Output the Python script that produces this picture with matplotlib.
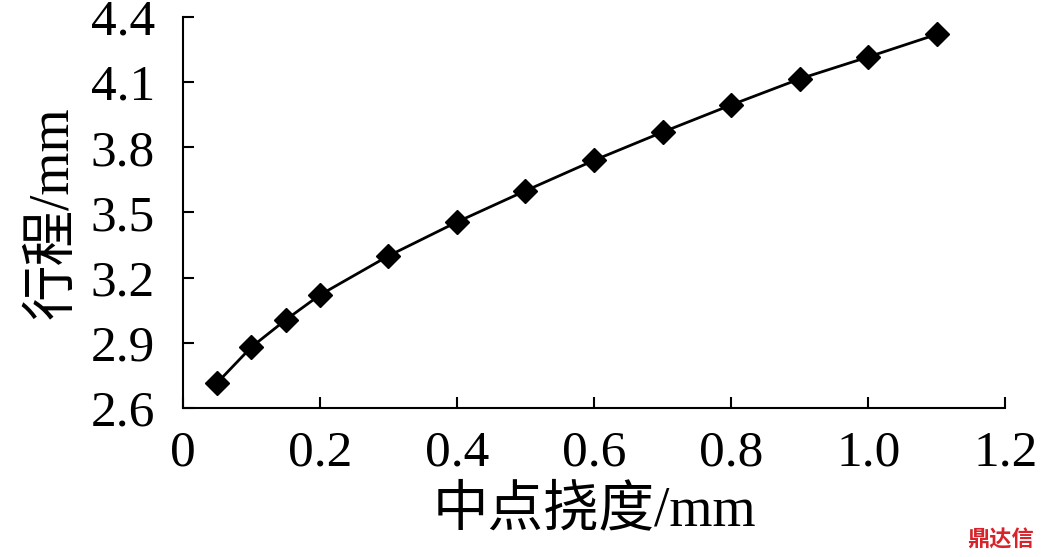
import matplotlib
matplotlib.use("Agg")
import matplotlib.pyplot as plt

x = [0.05, 0.1, 0.15, 0.2, 0.3, 0.4, 0.5, 0.6, 0.7, 0.8, 0.9, 1.0, 1.1]
y = [2.715, 2.88, 3.005, 3.12, 3.30, 3.456, 3.60, 3.74, 3.87, 3.995, 4.115, 4.216, 4.32]
xticks = [0, 0.2, 0.4, 0.6, 0.8, 1.0, 1.2]
xlabels = ["0", "0.2", "0.4", "0.6", "0.8", "1.0", "1.2"]
yticks = [2.6, 2.9, 3.2, 3.5, 3.8, 4.1, 4.4]

fam = ["Liberation Serif", "Noto Sans CJK SC"]
plt.rcParams["font.family"] = fam
fig = plt.figure(figsize=(10.44, 5.57), dpi=100)
ax = fig.add_axes([0.175, 0.2675, 0.788, 0.702])
ax.plot(x, y, color="black", lw=2, marker="D", ms=12, mfc="black", mec="black")
ax.set_xlim(0, 1.2)
ax.set_ylim(2.6, 4.4)
ax.set_xticks(xticks)
ax.set_xticklabels(xlabels)
ax.set_yticks(yticks)
ax.set_yticklabels([f"{v:.1f}" for v in yticks])
for s in ["top", "right"]:
    ax.spines[s].set_visible(False)
for s in ["left", "bottom"]:
    ax.spines[s].set_linewidth(1.5)
ax.tick_params(direction="in", length=8, width=1.5, labelsize=37)
ax.tick_params(axis="x", pad=16)
ax.tick_params(axis="y", pad=20)
ax.set_xlabel("中点挠度/mm", fontsize=40, labelpad=6)
ax.set_ylabel("行程/mm", fontsize=40, labelpad=8)
fig.text(0.99, 0.01, "鼎达信", color="#d9232a", fontsize=16, ha="right", va="bottom",
         family=["Noto Sans CJK SC"], weight="bold")
fig.savefig("out.png", dpi=100)
